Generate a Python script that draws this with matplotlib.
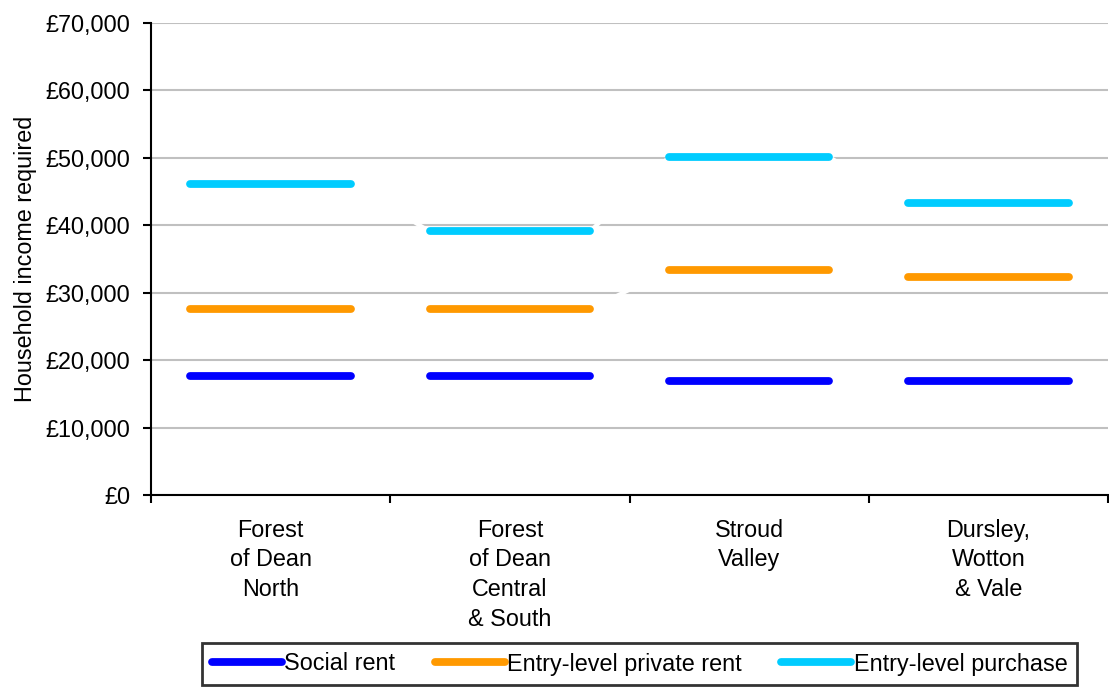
import matplotlib
matplotlib.use("Agg")
import matplotlib.pyplot as plt
import numpy as np

areas = ["Forest\nof Dean\nNorth", "Forest\nof Dean\nCentral\n& South", "Stroud\nValley", "Dursley,\nWotton\n& Vale"]
social_rent = [17700, 17700, 16900, 16900]
private_rent = [27600, 27600, 33300, 32400]
purchase = [46100, 39100, 50100, 43300]

series = [
    ("Social rent", social_rent, "#0000FF"),
    ("Entry-level private rent", private_rent, "#FF9900"),
    ("Entry-level purchase", purchase, "#00CCFF"),
]

plt.rcParams["font.family"] = ["Liberation Sans", "DejaVu Sans"]
plt.rcParams["font.size"] = 16.8

fig = plt.figure(figsize=(11.09, 6.87), dpi=100)
ax = fig.add_axes([151 / 1109, 1 - 495 / 687, 957 / 1109, (495 - 23) / 687])

x = np.arange(len(areas))
half = 0.335

for label, values, color in series:
    xs = np.ravel([[c - half, c + half] for c in x])
    ys = np.repeat(values, 2)
    # white connector between category segments
    ax.plot(xs, ys, color="white", lw=3, zorder=2)
    for i, v in enumerate(values):
        ax.plot([x[i] - half, x[i] + half], [v, v], color=color, lw=5.6,
                solid_capstyle="round", zorder=3,
                label=label if i == 0 else None)

ax.set_xlim(-0.5, len(areas) - 0.5)
ax.set_ylim(0, 70000)
ax.set_yticks(np.arange(0, 70001, 10000))
ax.set_yticklabels([f"£{v:,.0f}" for v in np.arange(0, 70001, 10000)])
ax.yaxis.grid(True, color="#C0C0C0", lw=1.5, zorder=0)
ax.set_axisbelow(True)

ax.set_xticks(np.arange(-0.5, len(areas)), minor=False)
ax.set_xticklabels([])
ax.set_xticks(x, minor=True)
ax.set_xticklabels(areas, minor=True, linespacing=1.38)
ax.tick_params(axis="x", which="minor", length=0, pad=17)
ax.tick_params(axis="x", which="major", length=6, width=1.5, direction="out")
ax.tick_params(axis="y", length=6, width=1.5, direction="out", pad=9)

for side in ["top", "right"]:
    ax.spines[side].set_visible(False)
for side in ["left", "bottom"]:
    ax.spines[side].set_linewidth(1.5)

ax.set_ylabel("Household income required", fontsize=16.8, labelpad=6)

leg = fig.legend(loc="center", bbox_to_anchor=(639.5 / 1109, 1 - 664 / 687), ncol=3,
                 frameon=True, fancybox=False, edgecolor="black", handlelength=3.0,
                 handletextpad=0.1, columnspacing=1.7, borderpad=0.4)
leg.get_frame().set_linewidth(2)

fig.savefig("out.png", dpi=100)
